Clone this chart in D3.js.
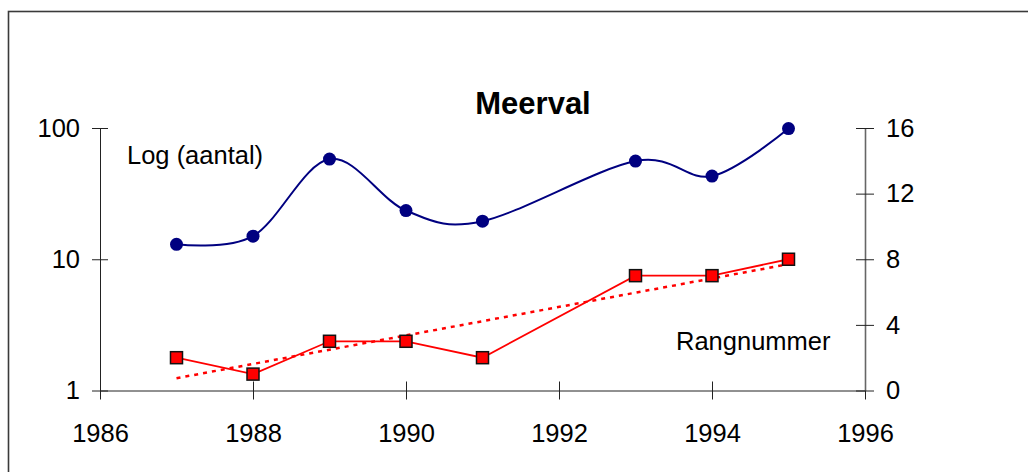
<!DOCTYPE html>
<html>
<head>
<meta charset="utf-8">
<script src="https://cdn.jsdelivr.net/npm/d3@7"></script>
<style>
  body { margin: 0; background: #fff; }
  svg text { font-family: Arial, "Liberation Sans", sans-serif; fill: #000; }
</style>
</head>
<body>
<script>
// Meerval: aantal (log, left axis) and rangnummer (right axis) per year
var years = [1987, 1988, 1989, 1990, 1991, 1993, 1994, 1995];
var aantal = [13, 15, 58, 23.5, 19.5, 56, 43, 99];
var rang = [2, 1, 3, 3, 2, 7, 7, 8];
var trendYears = [1987, 1995];
var trendRang = [0.75, 7.7];
var xTicks = [1986, 1988, 1990, 1992, 1994, 1996];
var leftTicks = [1, 10, 100];
var rightTicks = [0, 4, 8, 12, 16];

var width = 1028,
    height = 472;

var svg = d3.select("body").append("svg")
    .attr("width", width)
    .attr("height", height);

// outer chart frame (runs off the right and bottom edge)
svg.append("rect")
    .attr("x", 8.5).attr("y", 11.5)
    .attr("width", 1100).attr("height", 600)
    .attr("fill", "#fff")
    .attr("stroke", "#3a3a3a")
    .attr("stroke-width", 1.6);

var x = d3.scaleLinear().domain([1986, 1996]).range([100, 865]);
var yLog = d3.scaleLog().domain([1, 100]).range([390.5, 128]);
var yRank = d3.scaleLinear().domain([0, 16]).range([390.5, 128]);

var fs = 25.5;

// axes
var gx = svg.append("g")
    .attr("transform", "translate(0," + yLog(1) + ")")
    .call(d3.axisBottom(x).tickValues(xTicks).tickFormat(d3.format("d"))
      .tickSizeInner(9).tickSizeOuter(0).tickPadding(24));
gx.selectAll(".tick line").attr("y1", -9);

var gl = svg.append("g")
    .attr("transform", "translate(" + x(1986) + ",0)")
    .call(d3.axisLeft(yLog).tickValues(leftTicks).tickFormat(d3.format("d"))
      .tickSizeInner(8).tickSizeOuter(0).tickPadding(12));
gl.selectAll(".tick line").attr("x1", 8);

var gr = svg.append("g")
    .attr("transform", "translate(" + x(1996) + ",0)")
    .call(d3.axisRight(yRank).tickValues(rightTicks)
      .tickSizeInner(9).tickSizeOuter(0).tickPadding(12));
gr.selectAll(".tick line").attr("x1", -9);

svg.selectAll(".tick text").attr("font-size", fs).attr("font-family", "Arial, 'Liberation Sans', sans-serif");
svg.selectAll(".domain, .tick line").attr("stroke", "#222");
gr.select(".domain").attr("stroke", "#666").attr("stroke-width", 1.6);

// aantal: smoothed navy line with dots
var blue = "#000080";
var lineA = d3.line()
    .x(function(d, i) { return x(years[i]); })
    .y(function(d) { return yLog(d); })
    .curve(d3.curveCardinal.tension(0));

svg.append("path")
    .attr("d", lineA(aantal))
    .attr("fill", "none")
    .attr("stroke", blue)
    .attr("stroke-width", 2);

svg.selectAll("circle.aantal")
    .data(aantal)
  .enter().append("circle")
    .attr("class", "aantal")
    .attr("cx", function(d, i) { return x(years[i]); })
    .attr("cy", function(d) { return yLog(d); })
    .attr("r", 6.5)
    .attr("fill", blue);

// rangnummer trend (dotted)
var lineT = d3.line()
    .x(function(d, i) { return x(trendYears[i]); })
    .y(function(d) { return yRank(d); });

svg.append("path")
    .attr("d", lineT(trendRang))
    .attr("fill", "none")
    .attr("stroke", "#ff0000")
    .attr("stroke-width", 2.5)
    .attr("stroke-dasharray", "4,5");

// rangnummer line with squares
var lineR = d3.line()
    .x(function(d, i) { return x(years[i]); })
    .y(function(d) { return yRank(d); });

svg.append("path")
    .attr("d", lineR(rang))
    .attr("fill", "none")
    .attr("stroke", "#ff0000")
    .attr("stroke-width", 1.8);

var sq = 12;
svg.selectAll("rect.rang")
    .data(rang)
  .enter().append("rect")
    .attr("class", "rang")
    .attr("x", function(d, i) { return x(years[i]) - sq / 2; })
    .attr("y", function(d) { return yRank(d) - sq / 2; })
    .attr("width", sq).attr("height", sq)
    .attr("fill", "#ff0000")
    .attr("stroke", "#111")
    .attr("stroke-width", 1.5);

// labels
svg.append("text")
    .attr("x", 533).attr("y", 114)
    .attr("text-anchor", "middle")
    .attr("font-size", 31)
    .attr("font-weight", "bold")
    .text("Meerval");

svg.append("text")
    .attr("x", 127).attr("y", 164)
    .attr("font-size", fs)
    .text("Log (aantal)");

svg.append("text")
    .attr("x", 676).attr("y", 350)
    .attr("font-size", fs)
    .text("Rangnummer");
</script>
</body>
</html>
